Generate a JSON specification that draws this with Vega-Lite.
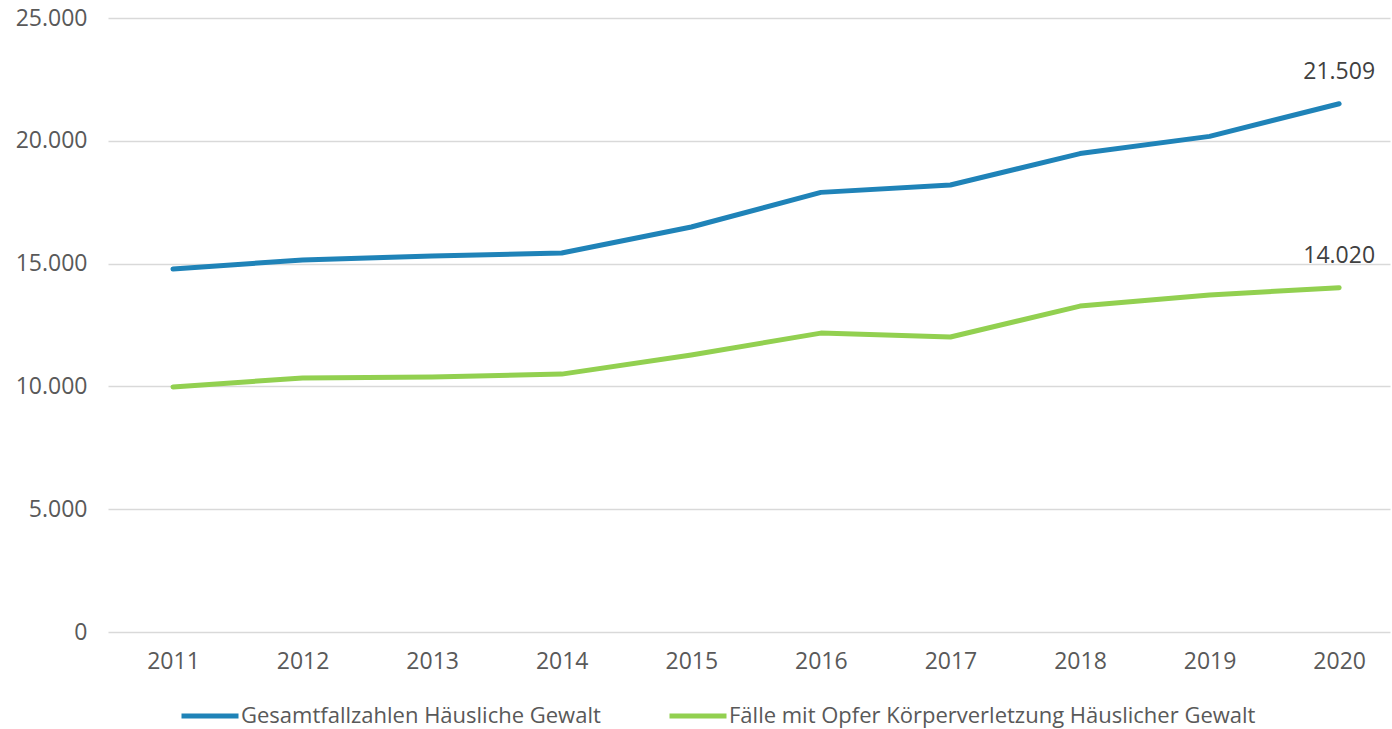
{
  "$schema": "https://vega.github.io/schema/vega-lite/v6.json",
  "autosize": {"type": "none"},
  "width": 1282,
  "height": 614,
  "padding": {"left": 108, "top": 18, "right": 2, "bottom": 97},
  "background": "white",
  "config": {
    "view": {"stroke": null},
    "font": "Open Sans",
    "axis": {"labelFont": "Open Sans", "labelFontSize": 23, "labelColor": "#595959", "gridColor": "#d9d9d9", "gridWidth": 1.5, "domain": false, "ticks": false}
  },
  "data": {
    "values": [
      {"year": "2011", "series": "Gesamtfallzahlen Häusliche Gewalt", "value": 14780},
      {"year": "2012", "series": "Gesamtfallzahlen Häusliche Gewalt", "value": 15150},
      {"year": "2013", "series": "Gesamtfallzahlen Häusliche Gewalt", "value": 15310},
      {"year": "2014", "series": "Gesamtfallzahlen Häusliche Gewalt", "value": 15430},
      {"year": "2015", "series": "Gesamtfallzahlen Häusliche Gewalt", "value": 16490},
      {"year": "2016", "series": "Gesamtfallzahlen Häusliche Gewalt", "value": 17900},
      {"year": "2017", "series": "Gesamtfallzahlen Häusliche Gewalt", "value": 18200},
      {"year": "2018", "series": "Gesamtfallzahlen Häusliche Gewalt", "value": 19480},
      {"year": "2019", "series": "Gesamtfallzahlen Häusliche Gewalt", "value": 20180},
      {"year": "2020", "series": "Gesamtfallzahlen Häusliche Gewalt", "value": 21509, "label": "21.509"},
      {"year": "2011", "series": "Fälle mit Opfer Körperverletzung Häuslicher Gewalt", "value": 9980},
      {"year": "2012", "series": "Fälle mit Opfer Körperverletzung Häuslicher Gewalt", "value": 10340},
      {"year": "2013", "series": "Fälle mit Opfer Körperverletzung Häuslicher Gewalt", "value": 10380},
      {"year": "2014", "series": "Fälle mit Opfer Körperverletzung Häuslicher Gewalt", "value": 10500},
      {"year": "2015", "series": "Fälle mit Opfer Körperverletzung Häuslicher Gewalt", "value": 11280},
      {"year": "2016", "series": "Fälle mit Opfer Körperverletzung Häuslicher Gewalt", "value": 12170},
      {"year": "2017", "series": "Fälle mit Opfer Körperverletzung Häuslicher Gewalt", "value": 12010},
      {"year": "2018", "series": "Fälle mit Opfer Körperverletzung Häuslicher Gewalt", "value": 13270},
      {"year": "2019", "series": "Fälle mit Opfer Körperverletzung Häuslicher Gewalt", "value": 13720},
      {"year": "2020", "series": "Fälle mit Opfer Körperverletzung Häuslicher Gewalt", "value": 14020, "label": "14.020"}
    ]
  },
  "encoding": {
    "x": {"field": "year", "type": "ordinal", "title": null,
          "scale": {"type": "point", "padding": 0.447, "align": 0.561},
          "axis": {"labelAngle": 0, "labelPadding": 18, "grid": false}},
    "y": {"field": "value", "type": "quantitative", "title": null,
          "scale": {"domain": [0, 25000], "nice": false},
          "axis": {"values": [0, 5000, 10000, 15000, 20000, 25000], "labelPadding": 21,
                   "labelExpr": "replace(format(datum.value, ','), ',', '.')"}}
  },
  "layer": [
    {
      "mark": {"type": "line", "strokeWidth": 5, "strokeCap": "round", "strokeJoin": "round"},
      "encoding": {
        "color": {"field": "series", "type": "nominal",
                  "scale": {"domain": ["Gesamtfallzahlen Häusliche Gewalt", "Fälle mit Opfer Körperverletzung Häuslicher Gewalt"], "range": ["#1f83b8", "#92d050"]},
                  "legend": {"title": null, "orient": "none", "legendX": 71, "legendY": 667, "direction": "horizontal",
                             "symbolType": "stroke", "symbolSize": 3249, "symbolStrokeWidth": 5,
                             "labelFont": "Open Sans", "labelFontSize": 22, "labelColor": "#595959",
                             "labelOffset": 0, "columnPadding": 58, "labelLimit": 600}}
      }
    },
    {
      "transform": [{"filter": "isValid(datum.label)"}],
      "mark": {"type": "text", "fontSize": 23, "color": "#404040", "dy": -32, "font": "Open Sans"},
      "encoding": {"text": {"field": "label"}}
    }
  ]
}
